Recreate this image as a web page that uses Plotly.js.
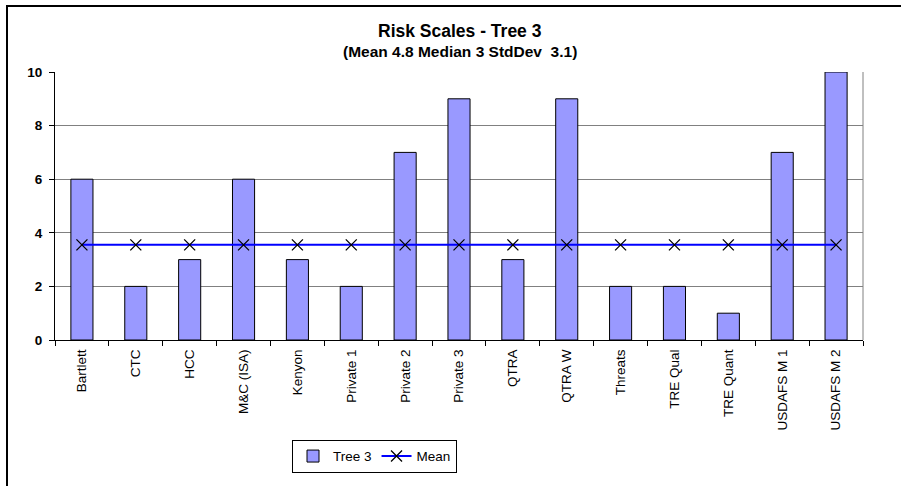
<!DOCTYPE html>
<html>
<head>
<meta charset="utf-8">
<script src="https://cdn.plot.ly/plotly-3.0.1.min.js"></script>
<style>html,body{margin:0;padding:0;background:#fff;}#chart{width:901px;height:486px;}</style>
</head>
<body>
<div id="chart"></div>
<script>
var categories = ["Bartlett","CTC","HCC","M&C (ISA)","Kenyon","Private 1","Private 2","Private 3","QTRA","QTRA W","Threats","TRE Qual","TRE Quant","USDAFS M 1","USDAFS M 2"];
var tree3 = [6,2,3,6,3,2,7,9,3,9,2,2,1,7,10];
var meanLine = [3.55,3.55,3.55,3.55,3.55,3.55,3.55,3.55,3.55,3.55,3.55,3.55,3.55,3.55,3.55];
var yTicks = [0,2,4,6,8,10];
var titleText = "Risk Scales - Tree 3";
var subtitleText = "(Mean 4.8 Median 3 StdDev  3.1)";

var font = "Liberation Sans, Arial, sans-serif";
var L = 55, R = 863, T = 72, B = 340.5, W = 901, H = 486;
function px2x(p){ return (p - L) / (R - L); }
function py2y(p){ return 1 - (p - T) / (B - T); }

var traces = [
  {type:"bar", name:"Tree 3", x:categories, y:tree3, width:0.41,
   marker:{color:"#9999FF", line:{color:"#000000", width:1}}},
  {type:"scatter", mode:"lines+markers", name:"Mean", x:categories, y:meanLine,
   line:{color:"#0000FF", width:2},
   marker:{symbol:"x-thin-open", size:11, color:"#000000", line:{color:"#000000", width:1.3}}}
];

var layout = {
  width:W, height:H,
  margin:{l:L, r:W-R, t:T, b:H-B, pad:0},
  paper_bgcolor:"#ffffff", plot_bgcolor:"#ffffff",
  font:{family:font, size:13, color:"#000"},
  showlegend:true,
  legend:{orientation:"h", x:px2x(374.5), xanchor:"center", y:py2y(457), yanchor:"middle",
          bordercolor:"#000", borderwidth:1, font:{size:13.5, family:font}, traceorder:"normal",
          itemwidth:30, tracegroupgap:0},
  xaxis:{type:"category", tickangle:-90, showgrid:false, showline:true, linecolor:"#000", linewidth:1,
         ticks:"outside", ticklen:5, tickcolor:"#000", tickson:"boundaries", ticklabelstandoff:3,
         tickfont:{size:13.5, family:font}, range:[-0.5,14.5], fixedrange:true},
  yaxis:{range:[0,10], tickvals:yTicks, ticktext:yTicks.map(String), showgrid:true, gridcolor:"#808080", gridwidth:1,
         showline:true, linecolor:"#000", linewidth:1, ticks:"outside", ticklen:5, tickcolor:"#000", ticklabelstandoff:4,
         tickfont:{size:13.5, family:font, weight:"bold"}, zeroline:false, fixedrange:true},
  bargap:0.59,
  shapes:[
    {type:"line", xref:"paper", yref:"paper", x0:1, x1:1, y0:0, y1:1, line:{color:"#808080", width:1}},
    {type:"line", xref:"paper", yref:"paper", x0:px2x(7), x1:px2x(7), y0:py2y(6), y1:py2y(500), line:{color:"#000", width:2}},
    {type:"line", xref:"paper", yref:"paper", x0:px2x(6), x1:px2x(920), y0:py2y(6), y1:py2y(6), line:{color:"#000", width:2}}
  ],
  annotations:[
    {text:"<b>"+titleText+"</b>", xref:"paper", yref:"paper", x:px2x(460.5), y:py2y(31), xanchor:"center", yanchor:"middle",
     showarrow:false, font:{size:17.5, family:font}},
    {text:"<b>"+subtitleText+"</b>", xref:"paper", yref:"paper", x:px2x(460), y:py2y(51), xanchor:"center", yanchor:"middle",
     showarrow:false, font:{size:15.5, family:font}}
  ]
};

Plotly.newPlot("chart", traces, layout, {staticPlot:true, displayModeBar:false});
</script>
</body>
</html>
